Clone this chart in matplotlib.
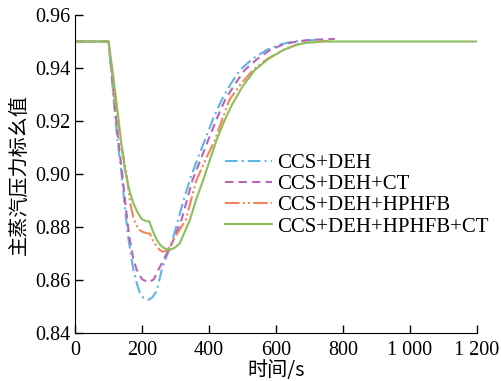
import numpy as np
import matplotlib.pyplot as plt

plt.rcParams['font.family'] = ['Liberation Serif', 'Noto Sans CJK SC']

# 读图得到的数据 (时间 s, 主蒸汽压力标幺值)
t_deh = [0, 100, 108, 116, 125, 139, 150, 159, 174, 185, 194, 205, 219, 230, 244, 259, 272, 285,
         308, 325, 343, 365, 388, 412, 438, 465, 493, 530, 572, 610, 647, 700, 745]
p_deh = [0.95, 0.95, 0.939, 0.927, 0.915, 0.900, 0.886, 0.876, 0.864, 0.8585, 0.855, 0.8532, 0.8525,
         0.8533, 0.8558, 0.8639, 0.8685, 0.8725, 0.8827, 0.8905, 0.8978, 0.9055, 0.9129, 0.9208,
         0.928, 0.934, 0.9393, 0.9435, 0.9468, 0.9488, 0.9499, 0.9505, 0.9506]

t_ct = [0, 100, 109, 118, 128, 141, 152, 162, 174, 184, 200, 219, 235, 249, 260, 270, 290, 318,
        335, 351, 375, 398, 423, 448, 478, 507, 545, 582, 620, 650, 700, 776]
p_ct = [0.95, 0.95, 0.939, 0.927, 0.914, 0.900, 0.887, 0.8764, 0.868, 0.8639, 0.8603, 0.8591,
        0.8602, 0.8639, 0.8665, 0.869, 0.874, 0.8827, 0.8905, 0.8978, 0.9055, 0.9129, 0.9208,
        0.928, 0.934, 0.9393, 0.9435, 0.9468, 0.9488, 0.9497, 0.9506, 0.951]

t_hp = [0, 100, 110, 120, 135, 152, 165, 175, 190, 205, 224, 232, 240, 250, 258, 264, 275, 288,
        300, 331, 347, 363, 390, 418, 440, 461, 495, 532, 575, 622, 660, 690, 766]
p_hp = [0.95, 0.95, 0.939, 0.927, 0.913, 0.9016, 0.889, 0.883, 0.879, 0.878, 0.8774, 0.8752,
        0.8735, 0.8717, 0.8709, 0.8707, 0.8712, 0.8735, 0.8765, 0.8827, 0.8905, 0.8978, 0.9055,
        0.9129, 0.9208, 0.928, 0.934, 0.9393, 0.9435, 0.9468, 0.9487, 0.9497, 0.9503]

t_hpct = [0, 100, 112, 124, 136, 149, 162, 174, 187, 199, 214, 222, 232, 244, 254, 264, 274, 284,
          298, 313, 343, 362, 383, 403, 423, 445, 468, 500, 537, 578, 622, 660, 690, 740, 1200]
p_hpct = [0.95, 0.95, 0.939, 0.927, 0.914, 0.9016, 0.894, 0.889, 0.8855, 0.883, 0.8822, 0.8821,
          0.8785, 0.8752, 0.8733, 0.8722, 0.8716, 0.8714, 0.8722, 0.8739, 0.8827, 0.8905, 0.8978,
          0.9055, 0.9129, 0.9198, 0.926, 0.933, 0.9393, 0.9435, 0.9468, 0.9487, 0.9495, 0.95, 0.95]

labels = ['CCS+DEH', 'CCS+DEH+CT', 'CCS+DEH+HPHFB', 'CCS+DEH+HPHFB+CT']

fig = plt.figure(figsize=(5.02, 3.81), dpi=100)
ax = fig.add_axes([0.1494, 0.126, 0.8008, 0.8346])

ax.plot(t_deh, p_deh, color='#5eb6e6', lw=1.5, linestyle=(0, (6, 2, 1, 2)), label=labels[0])
ax.plot(t_ct, p_ct, color='#b865b8', lw=1.5, linestyle=(0, (4, 2.5)), label=labels[1])
ax.plot(t_hp, p_hp, color='#f4845a', lw=1.5, linestyle=(0, (7, 1.5, 1, 1.5, 1, 1.5)), label=labels[2])
ax.plot(t_hpct, p_hpct, color='#8cbf5c', lw=1.5, linestyle='-', label=labels[3])

ax.set_xlim(0, 1200)
ax.set_ylim(0.84, 0.96)
ax.set_xticks([0, 200, 400, 600, 800, 1000, 1200])
ax.set_xticklabels(['0', '200', '400', '600', '800', '1 000', '1 200'])
ax.set_yticks([0.84, 0.86, 0.88, 0.90, 0.92, 0.94, 0.96])
ax.set_yticklabels(['0.84', '0.86', '0.88', '0.90', '0.92', '0.94', '0.96'])
ax.tick_params(direction='in', length=6, width=1, labelsize=14.5)
ax.tick_params(axis='x', pad=6)
ax.tick_params(axis='y', pad=3)
ax.spines['top'].set_visible(False)
ax.spines['right'].set_visible(False)

ax.set_xlabel('时间/s', fontsize=14.5, family=['Noto Sans CJK SC', 'Liberation Serif'], labelpad=0)
ax.set_ylabel('主蒸汽压力标幺值', fontsize=14.5, family=['Noto Sans CJK SC', 'Liberation Serif'], labelpad=4)

ax.legend(loc='upper left', bbox_to_anchor=(0.373, 0.565), frameon=False, fontsize=15,
          handlelength=2.26, handletextpad=0.25, labelspacing=0.08, borderpad=0, borderaxespad=0)

fig.savefig('out.png', dpi=100)
